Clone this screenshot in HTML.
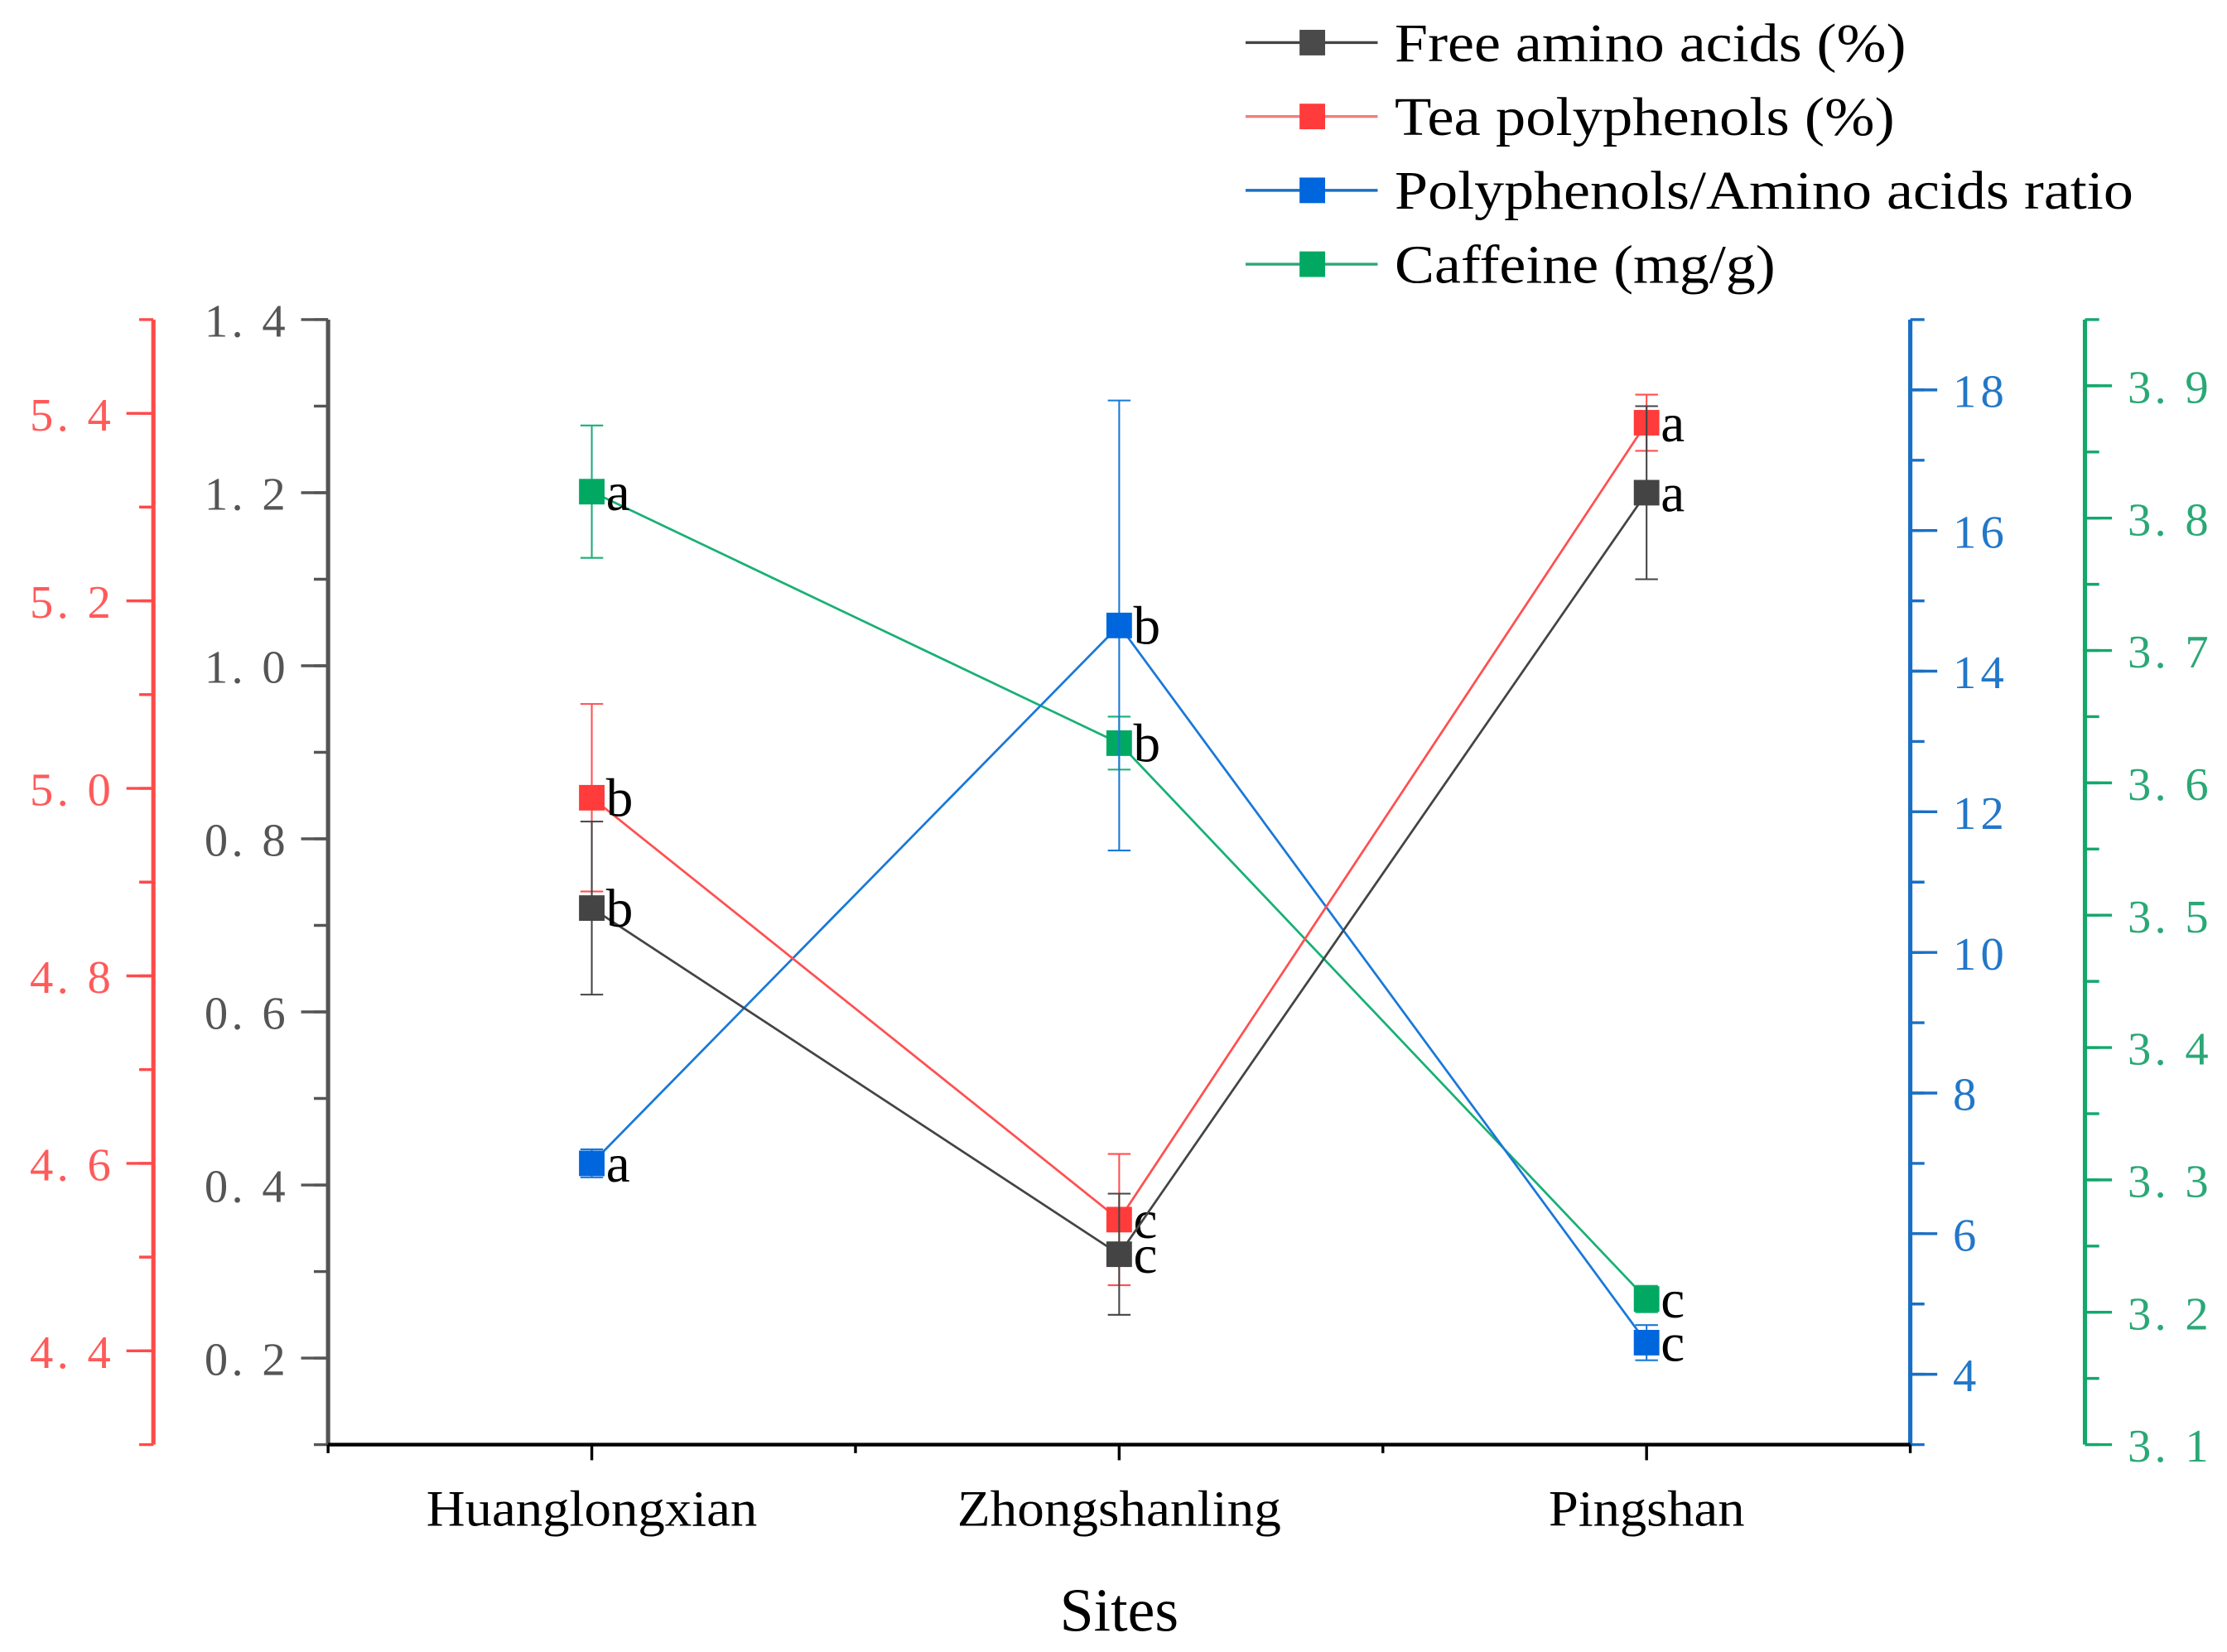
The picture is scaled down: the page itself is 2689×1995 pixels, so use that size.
<!DOCTYPE html>
<html><head><meta charset="utf-8"><style>
html,body{margin:0;padding:0;background:#fff}
svg{display:block}
text{font-family:"Liberation Serif",serif}
</style></head><body>
<svg id="chart" width="2689" height="1995" viewBox="0 0 1568 1163" preserveAspectRatio="none" xmlns="http://www.w3.org/2000/svg">
<g id="axes"></g>
<g id="series"></g>
<g id="legend"></g>
<text x="788" y="1148" font-size="43" text-anchor="middle" fill="#000">Sites</text>
</svg>
<script>
const categories = ["Huanglongxian","Zhongshanling","Pingshan"];
const seriesNames = ["Free amino acids (%)","Tea polyphenols (%)","Polyphenols/Amino acids ratio","Caffeine (mg/g)"];
const aminoVals = [0.72, 0.32, 1.20];
const aminoErr = [0.10, 0.07, 0.10];
const polyVals = [4.99, 4.54, 5.39];
const polyErr = [0.10, 0.07, 0.03];
const ratioVals = [7.0, 14.65, 4.45];
const ratioErr = [0.2, 3.2, 0.25];
const caffVals = [3.82, 3.63, 3.21];
const caffErr = [0.05, 0.02, 0.01];
const aminoLetters = ["b","c","a"];
const polyLetters = ["b","c","a"];
const ratioLetters = ["a","b","c"];
const caffLetters = ["a","b","c"];
const aminoTicks = [0.2,0.4,0.6,0.8,1.0,1.2,1.4];
const polyTicks = [4.4,4.6,4.8,5.0,5.2,5.4];
const ratioTicks = [4,6,8,10,12,14,16,18];
const caffTicks = [3.1,3.2,3.3,3.4,3.5,3.6,3.7,3.8,3.9];

const NS="http://www.w3.org/2000/svg";
const TOP=225, BOT=1017, XL=231, XR=1345;
function lin(d0,d1){return v=>BOT-(v-d0)/(d1-d0)*(BOT-TOP);}
const yAmino=lin(0.1,1.4), yPoly=lin(4.3,5.5), yRatio=lin(3,19), yCaff=lin(3.1,3.95);
const xPos=i=>XL+(i+0.5)*(XR-XL)/3;
function el(tag,attrs,parent){const e=document.createElementNS(NS,tag);for(const k in attrs)e.setAttribute(k,attrs[k]);parent.appendChild(e);return e;}
const axes=document.getElementById('axes'), series=document.getElementById('series'), legend=document.getElementById('legend');

function fmt(v,dec){return dec?v.toFixed(dec).replace('.', '. '):String(v);}
function drawAxis(x,scale,ticks,color,labColor,side,dec,name,minorStep,lo,hi,labW){
  const g=el('g',{},axes);
  
  
  el('line',{x1:x,y1:TOP,x2:x,y2:BOT,stroke:color,'stroke-width':3},g);
  const dir=side==='left'?-1:1;
  for(let v=lo;v<=hi+1e-9;v+=minorStep){const y=scale(v);el('line',{x1:x,y1:y,x2:x+dir*10,y2:y,stroke:color,'stroke-width':2},g);}
  ticks.forEach(v=>{const y=scale(v);
    el('line',{x1:x,y1:y,x2:x+dir*19,y2:y,stroke:color,'stroke-width':2},g);
    const s=fmt(v,dec);
    const w=labW*s.replace(' ','').length/ (dec?3:2);
    const attrs={x:side==='left'?x-30-w:x+30,y:y+12,'font-size':33,fill:labColor,textLength:w,lengthAdjust:'spacing'};
    const t=el('text',attrs,g);
    t.textContent=s;
    
    
  });
}
drawAxis(108,yPoly,polyTicks,'#ff4a4a','#ff5a5a','left',1,'polyphenols-y-axis',0.1,4.3,5.5,57);
drawAxis(231,yAmino,aminoTicks,'#555','#555','left',1,'amino-y-axis',0.1,0.1,1.4,57);
drawAxis(1345,yRatio,ratioTicks,'#1a6fc4','#2277c8','right',0,'ratio-y-axis',1,3,19,36);
drawAxis(1468,yCaff,caffTicks,'#13a86b','#2aa876','right',1,'caffeine-y-axis',0.05,3.1,3.95,57);
const xg=el('g',{},axes);


el('line',{x1:XL,y1:BOT,x2:XR,y2:BOT,stroke:'#000','stroke-width':2.5},xg);
for(let i=0;i<=3;i++){const x=XL+i*(XR-XL)/3;el('line',{x1:x,y1:BOT,x2:x,y2:BOT+6,stroke:'#000','stroke-width':2},xg);}
const catW=[233,228,138];
categories.forEach((c,i)=>{el('line',{x1:xPos(i),y1:BOT,x2:xPos(i),y2:BOT+11,stroke:'#000','stroke-width':2},xg);
  const t=el('text',{x:xPos(i),y:1074,'font-size':36,'text-anchor':'middle',fill:'#000',textLength:catW[i],lengthAdjust:'spacingAndGlyphs'},xg);t.textContent=c;
  
  
});

function drawSeries(vals,errs,letters,scale,line,mark,name){
  const g=el('g',{},series);
  
  
  el('polyline',{points:vals.map((v,i)=>xPos(i)+','+scale(v)).join(' '),fill:'none',stroke:line,'stroke-width':1.6},g);
  vals.forEach((v,i)=>{const x=xPos(i),y1=scale(v+errs[i]),y2=scale(v-errs[i]);
    el('line',{x1:x,y1:y1,x2:x,y2:y2,stroke:line,'stroke-width':1.2},g);
    el('line',{x1:x-8,y1:y1,x2:x+8,y2:y1,stroke:line,'stroke-width':1.2},g);
    el('line',{x1:x-8,y1:y2,x2:x+8,y2:y2,stroke:line,'stroke-width':1.2},g);
    const r=el('rect',{x:x-9,y:scale(v)-9,width:18,height:18,fill:mark},g);
    
    
    const t=el('text',{x:x+10,y:scale(v)+13,'font-size':38,fill:'#000'},g);t.textContent=letters[i];
  });
}
drawSeries(caffVals,caffErr,caffLetters,yCaff,'#19b075','#00a862','caffeine-series');
drawSeries(ratioVals,ratioErr,ratioLetters,yRatio,'#1a78d8','#0066dd','ratio-series');
drawSeries(polyVals,polyErr,polyLetters,yPoly,'#ff5050','#ff3b3b','polyphenols-series');
drawSeries(aminoVals,aminoErr,aminoLetters,yAmino,'#444','#444','amino-series');

const legLine=['#444','#f07f7f','#1a6fc4','#2aa876'], legMark=['#4a4a4a','#ff3b3b','#0066dd','#00a862'];
const legW=[360,352,520,268];
seriesNames.forEach((n,i)=>{const y=30+i*52;const g=el('g',{},legend);
  
  
  el('line',{x1:877,y1:y,x2:970,y2:y,stroke:legLine[i],'stroke-width':2},g);
  el('rect',{x:915,y:y-9,width:18,height:18,fill:legMark[i]},g);
  const t=el('text',{x:982,y:y+13,'font-size':38,fill:'#000',textLength:legW[i],lengthAdjust:'spacingAndGlyphs'},g);t.textContent=n;
});
</script>
</body></html>
